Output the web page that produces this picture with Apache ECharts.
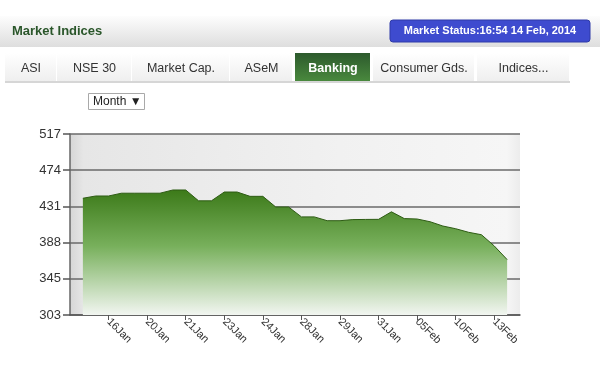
<!DOCTYPE html>
<html>
<head>
<meta charset="utf-8">
<script src="https://cdn.jsdelivr.net/npm/echarts@6/dist/echarts.min.js"></script>
<style>
html,body{margin:0;padding:0;background:#fff;}
#c{width:600px;height:374px;}
</style>
</head>
<body>
<div id="c"></div>
<script>
// ---- data ----
const categories = ['', '', '', '16Jan', '', '', '20Jan', '', '', '21Jan', '', '', '23Jan', '', '', '24Jan', '', '',
  '28Jan', '', '', '29Jan', '', '', '31Jan', '', '', '05Feb', '', '', '10Feb', '', '', '13Feb', '', ''];
const values = [441, 443.7, 443.7, 447, 447, 447, 447, 450.8, 450.8, 438, 438, 448.4, 448.4, 443.3, 443.3,
  430.7, 430.7, 419, 419, 414.5, 414.5, 415.8, 416, 416.1, 425, 417, 416.5, 413.3, 408.2, 405, 400.8, 397.9, 384.6, 368.5];
const yMin = 303, yMax = 517;
const yTickLabels = ['303', '345', '388', '431', '474', '517'];
const tabs = ['ASI', 'NSE 30', 'Market Cap.', 'ASeM', 'Banking', 'Consumer Gds.', 'Indices...'];
const title = 'Market Indices';
const statusText = 'Market Status:16:54 14 Feb, 2014';
const periodText = 'Month ▼';

// series points placed on the category axis (first data point sits on the 2nd category)
const seriesData = values.map((v, i) => [i + 1, v]);

const chart = echarts.init(document.getElementById('c'), null, {renderer: 'canvas'});

// tab geometry (chrome only)
const tabBoxes = [[5, 57], [57, 132], [132, 230], [230, 293], [295, 371], [373, 475], [477, 570]];
const graphics = [];
// header band
graphics.push({type: 'rect', shape: {x: 0, y: 16, width: 600, height: 31},
  style: {fill: new echarts.graphic.LinearGradient(0, 0, 0, 1, [
    {offset: 0, color: '#fdfdfd'}, {offset: 1, color: '#dedede'}])}, z: 1});
graphics.push({type: 'text', x: 12, y: 31, style: {text: title, font: 'bold 13px "Liberation Sans", Arial',
  fill: '#2a562a', textVerticalAlign: 'middle'}, z: 2});
graphics.push({type: 'rect', shape: {x: 390, y: 20, width: 200, height: 22, r: 3},
  style: {fill: '#3e4bcf', stroke: '#2f3aa8', lineWidth: 1}, z: 2});
graphics.push({type: 'text', x: 490, y: 31, style: {text: statusText, font: 'bold 11px "Liberation Sans", Arial',
  fill: '#ffffff', textAlign: 'center', textVerticalAlign: 'middle'}, z: 3});
// tabs
tabs.forEach((t, i) => {
  const [x0, x1] = tabBoxes[i];
  const active = t === 'Banking';
  graphics.push({type: 'rect', shape: {x: x0, y: 53, width: x1 - x0 - 1, height: 29},
    style: {fill: active ? new echarts.graphic.LinearGradient(0, 0, 0, 1, [
      {offset: 0, color: '#2d5a2d'}, {offset: 1, color: '#4a8a3e'}]) :
      new echarts.graphic.LinearGradient(0, 0, 0, 1, [
      {offset: 0, color: '#ffffff'}, {offset: 1, color: '#eeeeee'}])}, z: 1});
  graphics.push({type: 'text', x: (x0 + x1) / 2, y: 69, style: {text: t,
    font: (active ? 'bold ' : '') + '12.5px "Liberation Sans", Arial',
    fill: active ? '#ffffff' : '#333333', textAlign: 'center', textVerticalAlign: 'middle'}, z: 2});
});
graphics.push({type: 'rect', shape: {x: 5, y: 81, width: 565, height: 2}, style: {fill: '#d6d6d6'}, z: 1});
// period select box
graphics.push({type: 'rect', shape: {x: 88.5, y: 93.5, width: 56, height: 16},
  style: {fill: '#ffffff', stroke: '#a9a9a9', lineWidth: 1}, z: 1});
graphics.push({type: 'text', x: 93, y: 102, style: {text: periodText, font: '12px "Liberation Sans", Arial',
  fill: '#222222', textVerticalAlign: 'middle'}, z: 2});

chart.setOption({
  animation: false,
  backgroundColor: '#ffffff',
  graphic: graphics,
  grid: {left: 70, right: 80, top: 134, bottom: 59, show: true, borderWidth: 0,
    backgroundColor: new echarts.graphic.LinearGradient(0, 0, 1, 0, [
      {offset: 0, color: '#d6d6d6'}, {offset: 0.03, color: '#e6e6e6'},
      {offset: 0.6, color: '#f1f1f1'}, {offset: 0.97, color: '#f6f6f6'}, {offset: 1, color: '#ececec'}])},
  xAxis: {
    type: 'category', data: categories, boundaryGap: false,
    axisLine: {lineStyle: {color: '#555555', width: 1.5}},
    axisTick: {show: true, length: 5, interval: (i, v) => v !== '', lineStyle: {color: '#555555'}},
    axisLabel: {interval: 0, rotate: -45, fontSize: 11, color: '#333333', margin: 5,
      fontFamily: '"Liberation Sans", Arial'},
    splitLine: {show: false}
  },
  yAxis: {
    type: 'value', min: yMin, max: yMax, interval: (yMax - yMin) / (yTickLabels.length - 1),
    axisLine: {show: true, lineStyle: {color: '#666666', width: 1.5}},
    axisTick: {show: true, length: 7, lineStyle: {color: '#555555', width: 1.5}},
    axisLabel: {fontSize: 13, color: '#333333', margin: 9, fontFamily: '"Liberation Sans", Arial',
      formatter: (v) => {
        const idx = Math.round((v - yMin) / ((yMax - yMin) / (yTickLabels.length - 1)));
        return yTickLabels[idx] !== undefined ? yTickLabels[idx] : '';
      }},
    splitLine: {show: true, lineStyle: {color: '#6a6a6a', width: 1.5}}
  },
  series: [{
    type: 'line', data: seriesData, symbol: 'none', smooth: false,
    lineStyle: {color: '#2e5c14', width: 1},
    areaStyle: {opacity: 1, color: new echarts.graphic.LinearGradient(0, 0, 0, 1, [
      {offset: 0, color: '#3c7a19'}, {offset: 0.45, color: '#78b05c'}, {offset: 1, color: '#f2f6f1'}])},
    z: 3
  }]
});
</script>
</body>
</html>
